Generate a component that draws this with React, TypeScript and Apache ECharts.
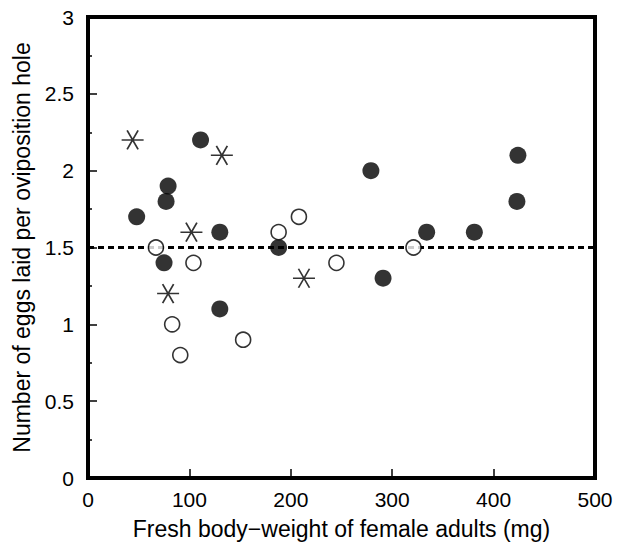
import React, { useEffect, useRef } from "react";
import * as echarts from "echarts";

const xTicks = [0, 100, 200, 300, 400, 500];
const yTicks = [0, 0.5, 1, 1.5, 2, 2.5, 3];

const filledPoints: number[][] = [
  [48, 1.7], [77, 1.8], [79, 1.9], [75, 1.4], [111, 2.2], [130, 1.6], [130, 1.1],
  [188, 1.5], [279, 2.0], [291, 1.3], [334, 1.6], [381, 1.6], [423, 1.8], [424, 2.1],
];
const openPoints: number[][] = [
  [67, 1.5], [83, 1.0], [91, 0.8], [104, 1.4], [153, 0.9], [188, 1.6], [208, 1.7],
  [245, 1.4], [321, 1.5],
];
const starPoints: number[][] = [
  [44, 2.2], [132, 2.1], [102, 1.6], [79, 1.2], [213, 1.3],
];
const referenceLine: number[][] = [[0, 1.5], [500, 1.5]];

const FONT = "'Liberation Sans', Arial, Helvetica, sans-serif";
const STAR = "path://M-10 0 L10 0 M-5 -8.66 L5 8.66 M5 -8.66 L-5 8.66";

export default function App() {
  const ref = useRef<HTMLDivElement>(null);
  useEffect(() => {
    if (!ref.current) return;
    const chart = echarts.init(ref.current, undefined, { renderer: "svg" });
    chart.setOption({
      animation: false,
      backgroundColor: "#ffffff",
      grid: {
        left: 88, right: 28, top: 17, bottom: 65,
        show: true, borderColor: "#000", borderWidth: 4, backgroundColor: "transparent",
      },
      xAxis: {
        type: "value",
        min: xTicks[0], max: xTicks[xTicks.length - 1], interval: 100,
        name: "Fresh body\u2212weight of female adults (mg)",
        nameLocation: "middle", nameGap: 39,
        nameTextStyle: { fontFamily: FONT, fontSize: 23, color: "#000" },
        axisLine: { show: false },
        axisTick: { show: true, inside: true, length: 9, lineStyle: { color: "#000", width: 1.5 } },
        axisLabel: { fontFamily: FONT, fontSize: 21, color: "#000", margin: 11 },
        splitLine: { show: false },
      },
      yAxis: {
        type: "value",
        min: yTicks[0], max: yTicks[yTicks.length - 1], interval: 0.5,
        name: "Number of eggs laid per oviposition hole",
        nameLocation: "middle", nameGap: 51,
        nameTextStyle: { fontFamily: FONT, fontSize: 23, color: "#000" },
        axisLine: { show: false },
        axisTick: { show: true, inside: true, length: 9, lineStyle: { color: "#000", width: 1.5 } },
        minorTick: { show: true, splitNumber: 2, length: 4, lineStyle: { color: "#000", width: 1.5 } },
        axisLabel: { fontFamily: FONT, fontSize: 21, color: "#000", margin: 14 },
        splitLine: { show: false },
      },
      series: [
        {
          type: "line",
          data: referenceLine,
          symbol: "none",
          lineStyle: { color: "#000", width: 3, type: [6, 4] },
          z: 1,
        },
        {
          type: "scatter",
          data: filledPoints,
          symbol: "circle",
          symbolSize: 17,
          itemStyle: { color: "#000" },
          z: 3,
        },
        {
          type: "scatter",
          data: openPoints,
          symbol: "circle",
          symbolSize: 15,
          itemStyle: { color: "#fff", borderColor: "#000", borderWidth: 1.6 },
          z: 4,
        },
        {
          type: "scatter",
          data: starPoints,
          symbol: STAR,
          symbolSize: [22, 19],
          itemStyle: { color: "none", borderColor: "#000", borderWidth: 1.6 },
          z: 4,
        },
      ],
    });
    return () => chart.dispose();
  }, []);
  return (
    <div
      ref={ref}
      style={{ position: "fixed", left: 0, top: 0, width: 623, height: 545 }}
    />
  );
}
